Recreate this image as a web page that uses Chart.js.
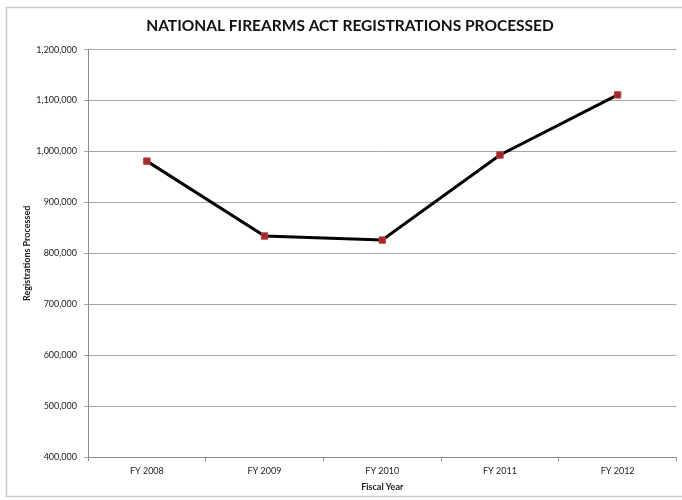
<!DOCTYPE html>
<html lang="en">
<head>
  <meta charset="UTF-8">
  <title>National Firearms Act Registrations Processed</title>
  <script src="https://cdn.jsdelivr.net/npm/chart.js"></script>
  <style>
    html, body {
      margin: 0;
      padding: 0;
      background: #fff;
    }
    .wrap {
      width: 682px;
      height: 500px;
      position: relative;
    }
  </style>
</head>
<body>
  <div class="wrap">
    <canvas id="nfaChart" width="682" height="500"></canvas>
  </div>

  <script>
    const fiscalYears = ['FY 2008', 'FY 2009', 'FY 2010', 'FY 2011', 'FY 2012'];
    const registrations = [981000, 834000, 826000, 993000, 1111000];
    const yMin = 400000;
    const yMax = 1200000;
    const yStep = 100000;

    const fontFamily = 'Lato, "Open Sans", sans-serif';

    // thin grey frame around the whole chart
    const framePlugin = {
      id: 'frame',
      beforeDraw(chart) {
        const c = chart.ctx;
        c.save();
        c.fillStyle = '#fff';
        c.fillRect(0, 0, chart.width, chart.height);
        c.strokeStyle = '#c9c9c9';
        c.lineWidth = 1.5;
        c.strokeRect(6.5, 7.5, chart.width, chart.height - 11);
        c.restore();
      }
    };

    const ctx = document.getElementById('nfaChart').getContext('2d');
    new Chart(ctx, {
      type: 'line',
      data: {
        labels: fiscalYears,
        datasets: [{
          label: 'Registrations Processed',
          data: registrations,
          borderColor: '#000',
          borderWidth: 3,
          tension: 0,
          fill: false,
          pointStyle: 'rect',
          pointRadius: 4.5,
          pointBackgroundColor: '#9b2a2a',
          pointBorderColor: '#c23b3b',
          pointBorderWidth: 1
        }]
      },
      options: {
        responsive: false,
        animation: false,
        layout: {
          padding: { top: 0, left: 20, right: 2, bottom: 0 }
        },
        scales: {
          x: {
            offset: true,
            afterFit: (scale) => { scale.height = 43; },
            grid: {
              display: true,
              offset: true,
              drawOnChartArea: false,
              drawTicks: true,
              tickLength: 4,
              color: '#8c8c8c'
            },
            border: { color: '#8c8c8c', width: 1 },
            ticks: {
              padding: 5,
              color: '#222',
              font: { family: fontFamily, size: 9 }
            },
            title: {
              display: true,
              text: 'Fiscal Year',
              color: '#222',
              padding: { top: 0, bottom: 8 },
              font: { family: fontFamily, size: 9, weight: 'bold' }
            }
          },
          y: {
            min: yMin,
            max: yMax,
            afterFit: (scale) => { scale.width = 68; },
            grid: {
              color: '#a6a6a6',
              tickLength: 4
            },
            border: { color: '#8c8c8c', width: 1 },
            ticks: {
              stepSize: yStep,
              padding: 7,
              color: '#222',
              font: { family: fontFamily, size: 9 },
              callback: (v) => v.toLocaleString('en-US')
            },
            title: {
              display: true,
              text: 'Registrations Processed',
              color: '#222',
              padding: { top: 1.5, bottom: 0 },
              font: { family: fontFamily, size: 9, weight: 'bold' }
            }
          }
        },
        plugins: {
          legend: { display: false },
          tooltip: { enabled: false },
          title: {
            display: true,
            text: 'NATIONAL FIREARMS ACT REGISTRATIONS PROCESSED',
            color: '#111',
            padding: { top: 17, bottom: 14 },
            font: { family: fontFamily, size: 15.5, weight: 'bold' }
          }
        }
      },
      plugins: [framePlugin]
    });
  </script>
</body>
</html>
